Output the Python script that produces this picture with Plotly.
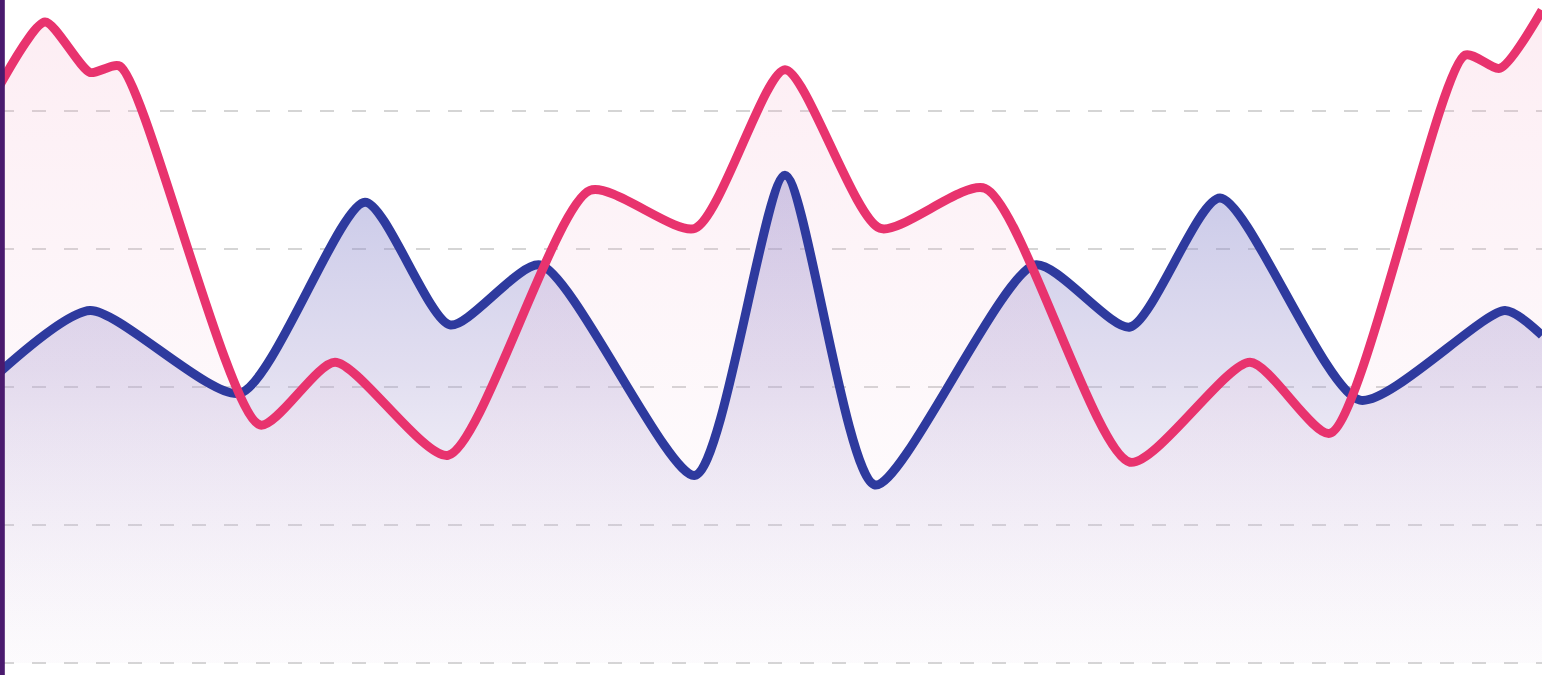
import plotly.graph_objects as go

# Data
pink_x = [0, 4.5, 9, 12, 26, 33.5, 44.8, 59, 69.5, 78.5, 88, 98.5, 113, 125, 133, 146.5, 150, 154.2]
pink_y = [83.8, 92.9, 85.6, 86.5, 34.5, 43.6, 30.1, 68.5, 63.0, 86.0, 63.0, 68.8, 29.1, 43.6, 33.3, 88.1, 86.2, 94.6]

blue_x = [0, 9, 24, 36.5, 45, 54, 69.5, 78.5, 87.5, 103.5, 113, 122, 136, 150.5, 154.2]
blue_y = [42.2, 51.1, 39.1, 66.8, 49.0, 57.7, 27.2, 70.7, 25.8, 57.7, 48.7, 67.4, 38.1, 51.1, 47.5]

grid_vals = [0, 20, 40, 60, 80]

PINK = "#E8336E"
BLUE = "#2E3A9E"
SMOOTH = 0.65

fig = go.Figure()

# fills
fig.add_trace(go.Scatter(
    x=blue_x, y=blue_y, mode="lines", line=dict(width=0, shape="spline", smoothing=SMOOTH),
    fill="tozeroy",
    fillgradient=dict(type="vertical",
                      colorscale=[[0, "rgba(210,200,230,0.05)"], [0.6, "rgba(165,155,210,0.33)"], [1, "rgba(125,125,200,0.42)"]]),
    hoverinfo="skip", showlegend=False))
fig.add_trace(go.Scatter(
    x=pink_x, y=pink_y, mode="lines", line=dict(width=0, shape="spline", smoothing=SMOOTH),
    fill="tozeroy",
    fillgradient=dict(type="vertical",
                      colorscale=[[0, "rgba(240,210,230,0.04)"], [0.6, "rgba(240,175,205,0.13)"], [1, "rgba(245,165,195,0.2)"]]),
    hoverinfo="skip", showlegend=False))

# lines
fig.add_trace(go.Scatter(x=blue_x, y=blue_y, mode="lines",
                         line=dict(color=BLUE, width=9, shape="spline", smoothing=SMOOTH),
                         showlegend=False))
fig.add_trace(go.Scatter(x=pink_x, y=pink_y, mode="lines",
                         line=dict(color=PINK, width=9, shape="spline", smoothing=SMOOTH),
                         showlegend=False))

fig.add_shape(type="line", xref="paper", yref="paper", x0=0.0015, x1=0.0015, y0=0, y1=1,
              line=dict(color="#4A1A6E", width=5))

fig.update_layout(
    width=1542, height=675,
    margin=dict(l=0, r=0, t=0, b=0),
    paper_bgcolor="white", plot_bgcolor="white",
    xaxis=dict(range=[0, 154.2], showgrid=False, zeroline=False, showticklabels=False, visible=False),
    yaxis=dict(range=[-1.74, 96.1], tickvals=grid_vals, showgrid=True, gridcolor="#D5D5D5",
               griddash="14px,18px", gridwidth=2, zeroline=False, showticklabels=False, ticks=""),
)

fig.write_html("out.html")
